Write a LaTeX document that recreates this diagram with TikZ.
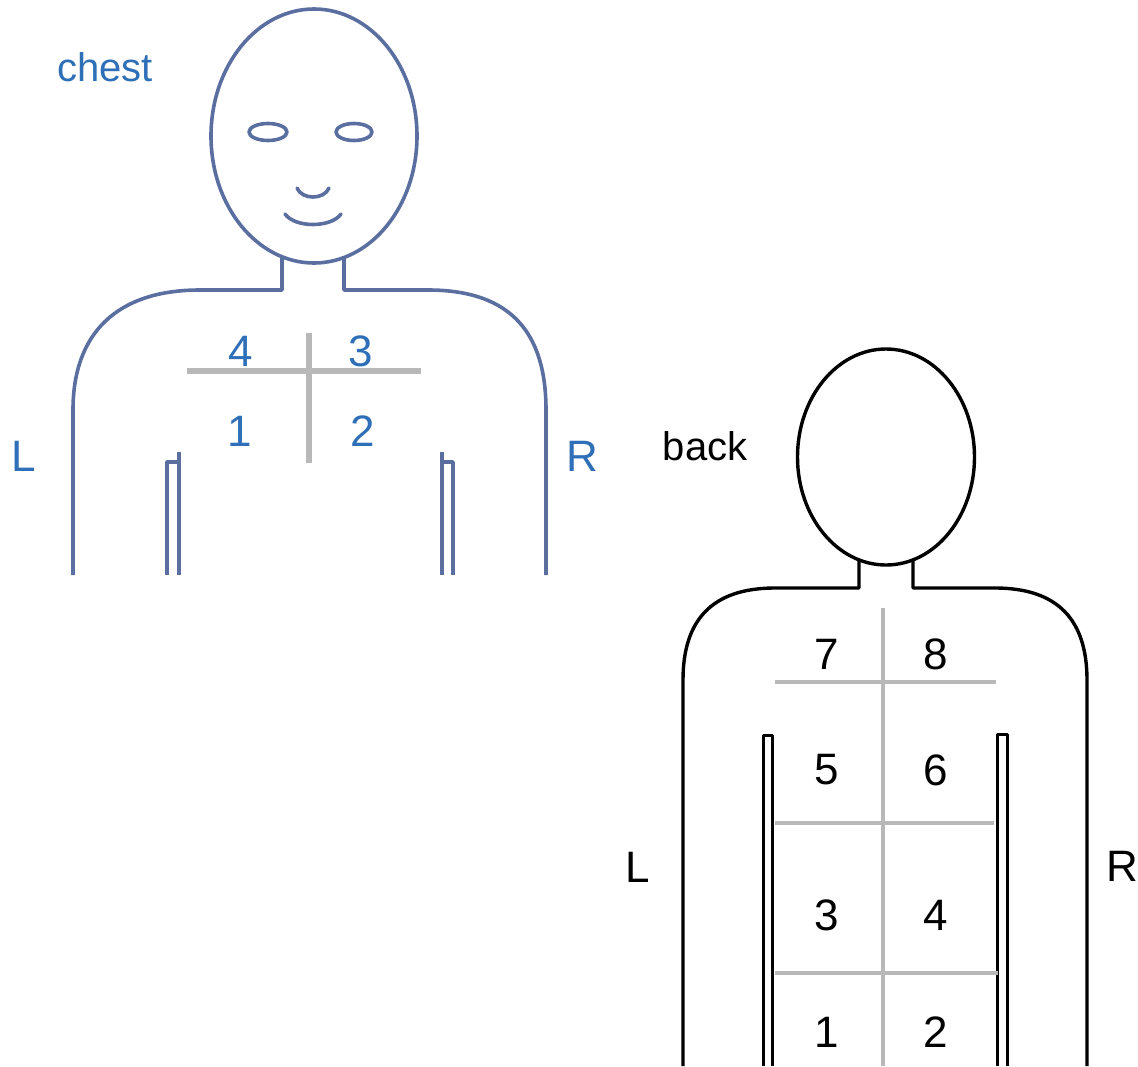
\documentclass[tikz,border=0pt]{standalone}
\usepackage{fontspec}
\setmainfont{Liberation Sans}
\definecolor{chestline}{HTML}{5B6EA0}
\definecolor{chesttext}{HTML}{2E6FB7}
\definecolor{zone}{HTML}{B8B8B8}
\begin{document}
\begin{tikzpicture}[x=1pt,y=-1pt,
  chestbody/.style={draw=chestline,line width=3.6pt,line join=round},
  backbody/.style={draw=black,line width=3.4pt,line join=round},
  zonefront/.style={draw=zone,line width=6pt},
  zoneback/.style={draw=zone,line width=4pt},
  tag/.style={inner sep=0pt,font=\fontsize{44}{50}\selectfont},
  title/.style={inner sep=0pt,font=\fontsize{40}{48}\selectfont}]
\useasboundingbox (0,0) rectangle (1138,1066);

% ---------- front view (chest) ----------
\draw[chestbody] (314,136) ellipse [x radius=103pt, y radius=127pt];
\draw[chestbody] (268,132) ellipse [x radius=19pt, y radius=8.5pt];
\draw[chestbody] (354,132) ellipse [x radius=18pt, y radius=8.5pt];
\draw[chestbody,line cap=round] (297,188) .. controls (302,200) and (324,200) .. (329,188);
\draw[chestbody,line cap=round] (285,214) .. controls (295,228) and (331,228) .. (341,214);
% neck, shoulders and flanks
\draw[chestbody] (282,257) -- (282,290) -- (200,290)
  .. controls (115,290) and (73,335) .. (73,410) -- (73,575);
\draw[chestbody] (344,257) -- (344,290) -- (428,290)
  .. controls (513,290) and (546,335) .. (546,410) -- (546,575);
% arms
\draw[chestbody] (167,575) -- (167,462) -- (179,462);
\draw[chestbody] (179,452) -- (179,575);
\draw[chestbody] (453,575) -- (453,462) -- (442,462);
\draw[chestbody] (442,452) -- (442,575);
% zones
\draw[zonefront] (187,371) -- (421,371);
\draw[zonefront] (309,333) -- (309,463);

\node[title,text=chesttext] (chest) at (105,67) {chest};
\node[tag,text=chesttext] (cL) at (24,456) {L};
\node[tag,text=chesttext] (cR) at (582,456) {R};
\node[tag,text=chesttext] (c4) at (241,351) {4};
\node[tag,text=chesttext] (c3) at (361,351) {3};
\node[tag,text=chesttext] (c1) at (240,431) {1};
\node[tag,text=chesttext] (c2) at (363,431) {2};

% ---------- rear view (back) ----------
\draw[backbody] (886,457) ellipse [x radius=88.5pt, y radius=108pt];
\draw[backbody] (859,560) -- (859,588) -- (775,588)
  .. controls (712,588) and (683,620) .. (683,680) -- (683,1066);
\draw[backbody] (913,560) -- (913,588) -- (995,588)
  .. controls (1058,588) and (1087,620) .. (1087,680) -- (1087,1066);
% arms
\draw[backbody,line width=3pt] (763,1066) -- (763,735) -- (772,735) -- (772,1066);
\draw[backbody,line width=3pt] (997,1066) -- (997,734) -- (1007,734) -- (1007,1066);
% zones
\draw[zoneback] (883,608) -- (883,1066);
\draw[zoneback] (775,682) -- (996,682);
\draw[zoneback] (775,823) -- (994,823);
\draw[zoneback] (775,973) -- (998,973);

\node[title] (back) at (705,446) {back};
\node[tag] (bL) at (638,867) {L};
\node[tag] (bR) at (1122,866) {R};
\node[tag] (b7) at (827,654) {7};
\node[tag] (b8) at (936,654) {8};
\node[tag] (b5) at (827,770) {5};
\node[tag] (b6) at (936,770) {6};
\node[tag] (b3) at (827,915) {3};
\node[tag] (b4) at (936,915) {4};
\node[tag] (b1) at (827,1032) {1};
\node[tag] (b2) at (936,1032) {2};
\end{tikzpicture}
\end{document}
